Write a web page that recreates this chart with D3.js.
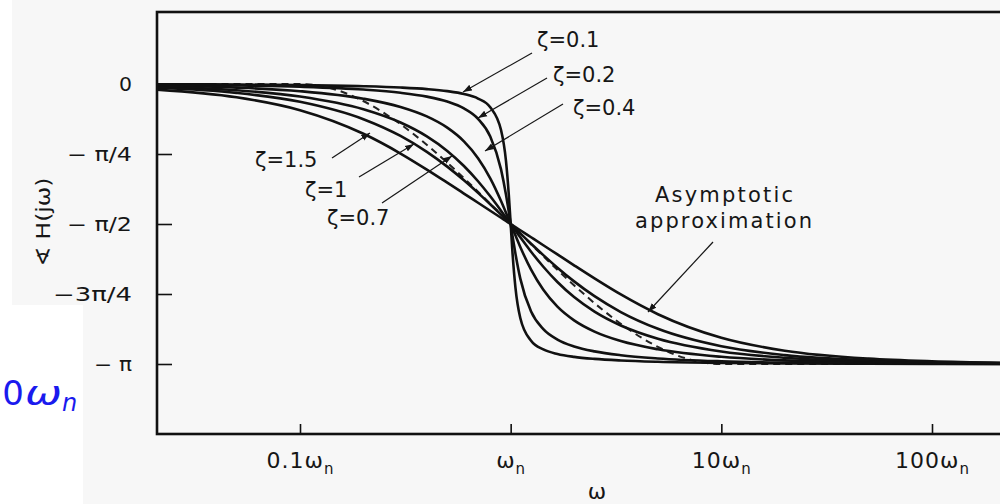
<!DOCTYPE html>
<html>
<head>
<meta charset="utf-8">
<script src="https://cdn.jsdelivr.net/npm/d3@7"></script>
<style>
  body { margin: 0; background: #fff; }
  svg { display: block; }
  text { font-family: "DejaVu Sans", sans-serif; }
</style>
</head>
<body>
<svg width="1000" height="504"></svg>
<script>
// frequencies (in units of wn) where the phase curves are sampled
var omega = [0.004, 0.01, 0.02, 0.05, 0.1, 0.2, 0.3, 0.4, 0.5, 0.6, 0.7, 0.8, 0.9, 0.95, 0.98, 1,
             1.0204, 1.053, 1.111, 1.25, 1.429, 1.667, 2, 2.5, 3.333, 5, 10, 20, 50, 100, 250];

var zetas = ["0.1", "0.2", "0.4", "0.7", "1", "1.5"];

// phase of H(jw) in degrees, one list per damping ratio
var phase01 = [-0.03, -0.07, -0.14, -0.34, -0.69, -1.43, -2.27, -3.27, -4.57, -6.42, -9.35, -14.93, -29.62, -49.46, -71.39, -90,
               -108.61, -130.54, -150.38, -165.07, -170.65, -173.58, -175.43, -176.73, -177.73, -178.57, -179.31, -179.66, -179.86, -179.93, -179.97];
var phase02 = [-0.07, -0.17, -0.34, -0.86, -1.74, -3.58, -5.65, -8.13, -11.31, -15.71, -22.38, -33.69, -54.87, -71.11, -82.33, -90,
               -97.67, -108.89, -125.13, -146.31, -157.62, -164.29, -168.69, -171.87, -174.35, -176.42, -178.26, -179.14, -179.66, -179.83, -179.93];
var phase04 = [-0.18, -0.46, -0.92, -2.30, -4.62, -9.46, -14.77, -20.85, -28.07, -36.87, -47.68, -60.64, -75.22, -82.69, -87.11, -90,
               -92.89, -97.31, -104.78, -119.36, -132.32, -143.13, -151.93, -159.15, -165.23, -170.54, -175.38, -177.70, -179.08, -179.54, -179.82];
var phase07 = [-0.32, -0.80, -1.60, -4.01, -8.05, -16.26, -24.78, -33.69, -43.03, -52.70, -62.51, -72.18, -81.42, -85.81, -88.35, -90,
               -91.65, -94.19, -98.58, -107.82, -117.49, -127.30, -136.97, -146.31, -155.22, -163.74, -171.95, -175.99, -178.40, -179.20, -179.68];
var phase10 = [-0.46, -1.15, -2.29, -5.72, -11.42, -22.62, -33.40, -43.60, -53.13, -61.93, -70.00, -77.32, -83.97, -87.06, -88.84, -90,
               -91.16, -92.94, -96.03, -102.68, -110.00, -118.07, -126.87, -136.40, -146.60, -157.38, -168.58, -174.28, -177.71, -178.85, -179.54];
var phase15 = [-0.69, -1.72, -3.43, -8.55, -16.86, -32.01, -44.68, -55.01, -63.43, -70.42, -76.35, -81.47, -85.97, -88.04, -89.23, -90,
               -90.77, -91.96, -94.03, -98.53, -103.65, -109.58, -116.57, -124.99, -135.32, -147.99, -163.14, -171.45, -176.57, -178.28, -179.31];

// straight-line (asymptotic) approximation
var asymOmega = [0.004, 0.1, 10, 250];
var asymPhase = [0, 0, -180, -180];

var yTicks = [0, -45, -90, -135, -180];
var yTickLabels = ["0", "\u2212 \u03c0/4", "\u2212 \u03c0/2", "\u22123\u03c0/4", "\u2212 \u03c0"];
var xTicks = [0.1, 1, 10, 100];
var xTickLabels = ["0.1", "", "10", "100"];

var series = [phase01, phase02, phase04, phase07, phase10, phase15];

//--- layout
var box = {left: 157, right: 1006, top: 12, bottom: 434};
var yLabelWidths = [13, 65, 65, 79, 38];
var ink = "#161616";

var svg = d3.select("svg");

// page background (scanned page + white margins)
svg.append("rect").attr("width", 1000).attr("height", 504).attr("fill", "#f7f7f7");
svg.append("rect").attr("width", 12).attr("height", 504).attr("fill", "#fff");
svg.append("rect").attr("y", 305).attr("width", 83).attr("height", 199).attr("fill", "#fff");

var x = d3.scaleLog().domain([0.1, 100]).range([300, 932]);
var y = d3.scaleLinear().domain([0, -180]).range([84, 364]);

var defs = svg.append("defs");
defs.append("clipPath").attr("id", "clip").append("rect")
    .attr("x", box.left).attr("y", box.top)
    .attr("width", box.right - box.left).attr("height", box.bottom - box.top);
defs.append("marker").attr("id", "head")
    .attr("viewBox", "0 -4 9 8").attr("refX", 9).attr("refY", 0)
    .attr("markerUnits", "userSpaceOnUse")
    .attr("markerWidth", 9).attr("markerHeight", 8).attr("orient", "auto")
  .append("path").attr("d", "M0,-3.2L9,0L0,3.2Z").attr("fill", ink);

// curves
var line = d3.line()
    .x(function(d) { return x(d[0]); })
    .y(function(d) { return y(d[1]); })
    .curve(d3.curveMonotoneX);

var plot = svg.append("g").attr("clip-path", "url(#clip)");

plot.append("path")
    .attr("d", line(d3.zip(asymOmega, asymPhase)))
    .attr("fill", "none").attr("stroke", "#222")
    .attr("stroke-width", 2).attr("stroke-dasharray", "7,5");

plot.selectAll(".curve")
    .data(series)
  .enter().append("path")
    .attr("class", "curve")
    .attr("d", function(s) { return line(d3.zip(omega, s)); })
    .attr("fill", "none").attr("stroke", "#111")
    .attr("stroke-width", 2.6);

// box
svg.append("rect")
    .attr("x", box.left).attr("y", box.top)
    .attr("width", box.right - box.left).attr("height", box.bottom - box.top)
    .attr("fill", "none").attr("stroke", "#111").attr("stroke-width", 2.6);

// y axis, ticks pointing inward
var yAxis = d3.axisLeft(y)
    .tickValues(yTicks)
    .tickSizeInner(-15).tickSizeOuter(0).tickPadding(25)
    .tickFormat(function(d, i) { return yTickLabels[i]; });

svg.append("g")
    .attr("transform", "translate(" + box.left + ",0)")
    .call(yAxis)
    .call(function(g) {
      g.select(".domain").remove();
      g.selectAll(".tick line").attr("stroke", "#111").attr("stroke-width", 1.6);
      g.selectAll(".tick text")
        .attr("font-family", "DejaVu Sans").attr("font-size", 19).attr("fill", ink)
        .attr("textLength", function(d, i) { return yLabelWidths[i]; })
        .attr("lengthAdjust", "spacingAndGlyphs");
    });

// x axis
var xAxis = d3.axisBottom(x)
    .tickValues(xTicks)
    .tickSizeInner(-10).tickSizeOuter(0).tickPadding(18)
    .tickFormat("");

svg.append("g")
    .attr("transform", "translate(0," + box.bottom + ")")
    .call(xAxis)
    .call(function(g) {
      g.select(".domain").remove();
      g.selectAll(".tick line").attr("stroke", "#111").attr("stroke-width", 1.6);
      var t = g.selectAll(".tick text")
        .attr("font-family", "DejaVu Sans").attr("font-size", 22).attr("fill", ink)
        .attr("letter-spacing", 1);
      t.append("tspan").text(function(d, i) { return xTickLabels[i] + "\u03c9"; });
      t.append("tspan").attr("font-size", 15).attr("dy", 6).text("n");
    });

svg.append("text")
    .attr("x", 597).attr("y", 499)
    .attr("text-anchor", "middle").attr("font-size", 22).attr("fill", ink)
    .text("\u03c9");

svg.append("text")
    .attr("transform", "translate(50,222) rotate(-90)")
    .attr("text-anchor", "middle").attr("font-size", 20).attr("fill", ink)
    .attr("textLength", 89).attr("lengthAdjust", "spacingAndGlyphs")
    .text("\u2222 H(j\u03c9)");

// damping ratio labels with leader arrows
var notes = [
  {text: "\u03b6=0.1", tx: 537, ty: 47,  from: [532, 53],  to: [463, 92]},
  {text: "\u03b6=0.2", tx: 553, ty: 82,  from: [547, 78],  to: [478, 118]},
  {text: "\u03b6=0.4", tx: 573, ty: 115, from: [563, 104], to: [485, 151]},
  {text: "\u03b6=1.5", tx: 255, ty: 167, from: [332, 158], to: [370, 133]},
  {text: "\u03b6=1",   tx: 305, ty: 197, from: [359, 177], to: [414, 144]},
  {text: "\u03b6=0.7", tx: 327, ty: 225, from: [382, 203], to: [452, 156]}
];

svg.selectAll(".zlab")
    .data(notes)
  .enter().append("text")
    .attr("class", "zlab")
    .attr("x", function(d) { return d.tx; })
    .attr("y", function(d) { return d.ty; })
    .attr("font-size", 21).attr("fill", ink)
    .text(function(d) { return d.text; });

var arrows = notes.map(function(d) { return [d.from, d.to]; });
arrows.push([[713, 242], [648, 312]]);

svg.selectAll(".lead")
    .data(arrows)
  .enter().append("line")
    .attr("class", "lead")
    .attr("x1", function(d) { return d[0][0]; })
    .attr("y1", function(d) { return d[0][1]; })
    .attr("x2", function(d) { return d[1][0]; })
    .attr("y2", function(d) { return d[1][1]; })
    .attr("stroke", ink).attr("stroke-width", 1.2)
    .attr("marker-end", "url(#head)");

svg.append("text").attr("x", 655).attr("y", 202).attr("font-size", 21).attr("fill", ink)
    .attr("textLength", 138).attr("lengthAdjust", "spacing").text("Asymptotic");
svg.append("text").attr("x", 635).attr("y", 228).attr("font-size", 21).attr("fill", ink)
    .attr("textLength", 177).attr("lengthAdjust", "spacing").text("approximation");

// stray blue label from the slide underneath (cut by the left edge)
var blue = "#1a1aee";
svg.append("text").attr("x", 24).attr("y", 405).attr("text-anchor", "end")
    .attr("font-family", "Liberation Serif").attr("font-size", 34).attr("fill", blue)
    .text("1.0");
svg.append("text").attr("x", 25).attr("y", 405)
    .attr("font-family", "Liberation Serif").attr("font-style", "italic")
    .attr("font-size", 34).attr("fill", blue)
    .attr("textLength", 37).attr("lengthAdjust", "spacingAndGlyphs")
    .text("\u03c9");
svg.append("text").attr("x", 62).attr("y", 411)
    .attr("font-family", "Liberation Serif").attr("font-style", "italic")
    .attr("font-size", 24).attr("fill", blue)
    .text("n");
</script>
</body>
</html>
